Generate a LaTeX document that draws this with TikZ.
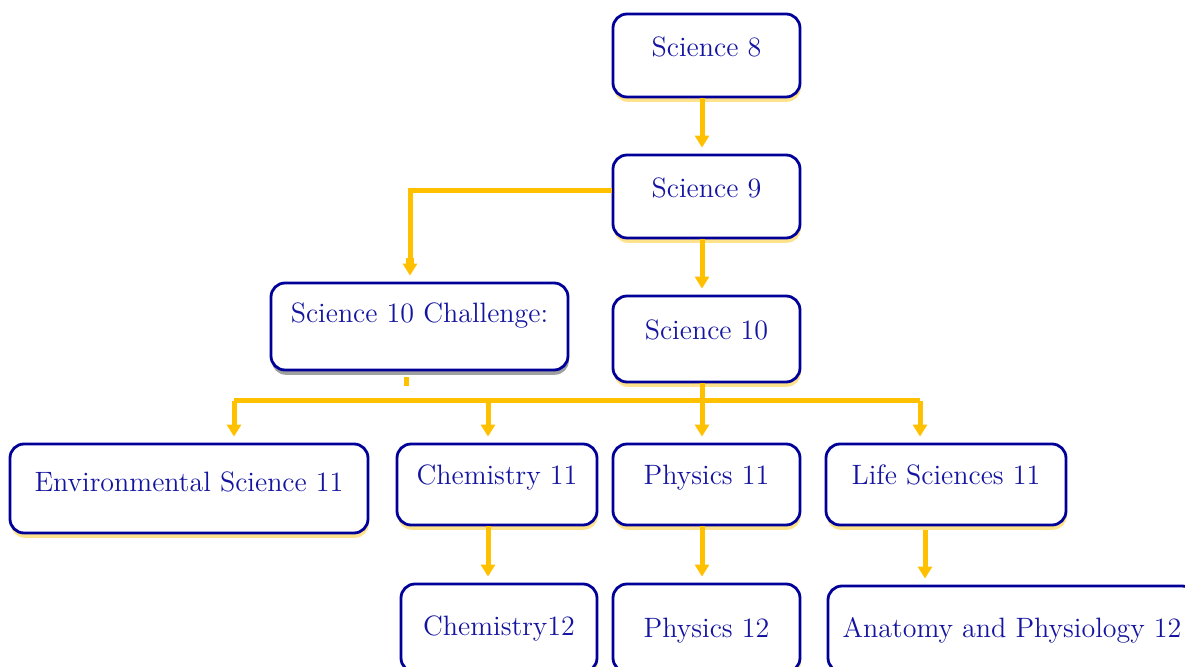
\documentclass[tikz,border=0pt]{standalone}
\usetikzlibrary{arrows.meta,shadows}
\definecolor{navyline}{RGB}{0,0,153}
\definecolor{navytext}{RGB}{20,20,160}
\definecolor{amber}{RGB}{255,192,0}
\definecolor{paleamber}{RGB}{255,226,140}
\definecolor{greyshadow}{RGB}{160,160,160}
\tikzset{
  course/.style n args={3}{draw=navyline, line width=1.4pt, rounded corners=7pt,
    fill=white, text=navytext, font=\fontsize{14}{16}\selectfont, inner sep=0pt,
    anchor=base, minimum width=#1, text height=#2, text depth=#3},
  lit/.style={drop shadow={shadow xshift=0.4pt, shadow yshift=-2.4pt, fill=paleamber, opacity=1}},
  dim/.style={drop shadow={shadow xshift=0.4pt, shadow yshift=-2.4pt, fill=greyshadow, opacity=1}},
  flow/.style={draw=amber, line width=2.5pt, -{Triangle[length=6pt,width=7pt]}, shorten >=3pt},
  bus/.style={draw=amber, line width=2.5pt},
}
\begin{document}
\begin{tikzpicture}[x=0.5pt,y=-0.5pt]
        \useasboundingbox (0,0) rectangle (1185,667);
        \clip (0,0) rectangle (1185,667);
        % courses
        \node[course={93.5pt}{21.5pt}{20pt}, lit] (s8) at (706.5,57) {Science 8};
        \node[course={93.5pt}{21.5pt}{20pt}, lit] (s9) at (706.5,198) {Science 9};
        \node[course={93.5pt}{22pt}{21pt}, lit] (s10) at (706.5,340) {Science 10};
        \node[course={148.5pt}{20pt}{23.5pt}, dim] (chal) at (419.5,323) {Science 10 Challenge:};
        \node[course={179pt}{24pt}{20.5pt}, lit] (env) at (189,492) {Environmental Science 11};
        \node[course={100pt}{20.5pt}{20pt}, lit] (c11) at (497,485) {Chemistry 11};
        \node[course={93.5pt}{20.5pt}{20pt}, lit] (p11) at (706.5,485) {Physics 11};
        \node[course={120pt}{20.5pt}{20pt}, lit] (life) at (946,485) {Life Sciences 11};
        \node[course={98pt}{26pt}{18pt}, lit] (c12) at (499,636) {Chemistry12};
        \node[course={93.5pt}{27pt}{17pt}, lit] (p12) at (706.5,638) {Physics 12};
        \node[course={184pt}{26pt}{17pt}, lit] (ana) at (1012,638) {Anatomy and Physiology 12};
        % connectors
        \draw[flow] ([xshift=-2.25pt]s8.south) -- ([xshift=-2.25pt]s9.north);
        \draw[flow] ([xshift=-2.25pt]s9.south) -- ([xshift=-2.25pt]s10.north);
        \draw[bus] ([yshift=2.75pt]s9.west) -| ([xshift=-4.75pt,yshift=12pt]chal.north);
        \draw[flow, line width=4pt] ([xshift=-4.75pt,yshift=12pt]chal.north) -- ([xshift=-4.75pt]chal.north);
        \draw[bus] ([xshift=-6.75pt,yshift=-3pt]chal.south) -- ++(0,9);
        \coordinate (busL) at (234,401);
        \coordinate (busC) at (488,401);
        \coordinate (busM) at (702,401);
        \coordinate (busR) at (920,401);
        \coordinate (lifeout) at (925,530);
        \draw[bus] (busL) -- (busR);
        \draw[flow] (busL) -- (busL |- env.north);
        \draw[flow] (busC) -- (busC |- c11.north);
        \draw[flow] (busM |- s10.south) -- (busM |- p11.north);
        \draw[flow] (busR) -- (busR |- life.north);
        \draw[flow] (busC |- c11.south) -- (busC |- c12.north);
        \draw[flow] (busM |- p11.south) -- (busM |- p12.north);
        \draw[flow] (lifeout) -- (lifeout |- ana.north);
\end{tikzpicture}
\end{document}
